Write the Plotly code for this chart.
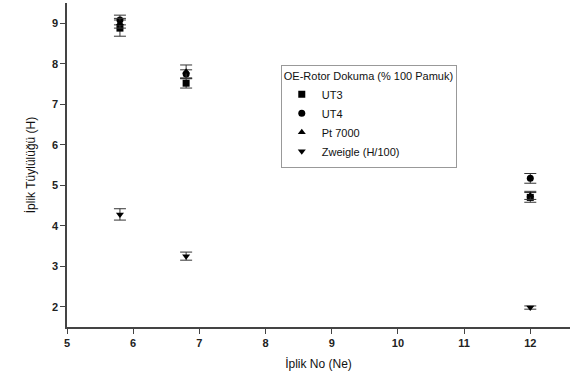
import plotly.graph_objects as go

x_vals = [5.8, 6.8, 12]
ut3 = [8.88, 7.52, 4.70]
ut3_err = [0.2, 0.12, 0.12]
ut4 = [9.08, 7.75, 5.17]
ut4_err = [0.12, 0.1, 0.12]
pt7000 = [9.0, 7.80, 4.75]
pt7000_err = [0.12, 0.17, 0.1]
zweigle = [4.28, 3.25, 1.98]
zweigle_err = [0.14, 0.1, 0.04]

series = [
    ("UT3", ut3, ut3_err, "square"),
    ("UT4", ut4, ut4_err, "circle"),
    ("Pt 7000", pt7000, pt7000_err, "triangle-up"),
    ("Zweigle (H/100)", zweigle, zweigle_err, "triangle-down"),
]

fig = go.Figure()
for name, ys, errs, sym in series:
    fig.add_trace(go.Scatter(
        x=x_vals, y=ys, mode="markers", name=name,
        marker=dict(symbol=sym, size=7, color="black"),
        error_y=dict(type="data", array=errs, visible=True, color="#333333",
                     thickness=1, width=6),
    ))

font = "Liberation Sans, Arial, sans-serif"
tickfont = dict(family=font, size=11, color="#222222", weight="bold")
fig.update_layout(
    width=571, height=376,
    margin=dict(l=67, r=1, t=3, b=49),
    paper_bgcolor="white", plot_bgcolor="white",
    font=dict(family=font, size=11, color="#111111"),
    showlegend=True,
    legend=dict(
        x=0.425, y=0.81, xanchor="left", yanchor="top",
        bordercolor="#999999", borderwidth=1, bgcolor="white",
        title=dict(text="OE-Rotor Dokuma (% 100 Pamuk)", font=dict(size=11)),
        font=dict(size=11), itemsizing="trace", tracegroupgap=0,
    ),
    xaxis=dict(
        range=[5, 12.6], tickvals=[5, 6, 7, 8, 9, 10, 11, 12],
        showgrid=False, zeroline=False, showline=True, linecolor="#444444",
        linewidth=1.5, ticks="outside", ticklen=5, tickcolor="#444444",
        automargin=False, tickfont=tickfont,
        title=dict(text="İplik No (Ne)", font=dict(size=12), standoff=12),
    ),
    yaxis=dict(
        range=[1.5, 9.5], tickvals=[2, 3, 4, 5, 6, 7, 8, 9],
        showgrid=False, zeroline=False, showline=True, linecolor="#444444",
        linewidth=1.5, ticks="outside", ticklen=5, tickcolor="#444444",
        automargin=False, tickfont=tickfont,
        title=dict(text="İplik Tüylülüğü (H)", font=dict(size=12), standoff=14),
    ),
)

fig.write_html("out.html", config={"displayModeBar": False},
               post_script="document.body.style.margin='0';")
